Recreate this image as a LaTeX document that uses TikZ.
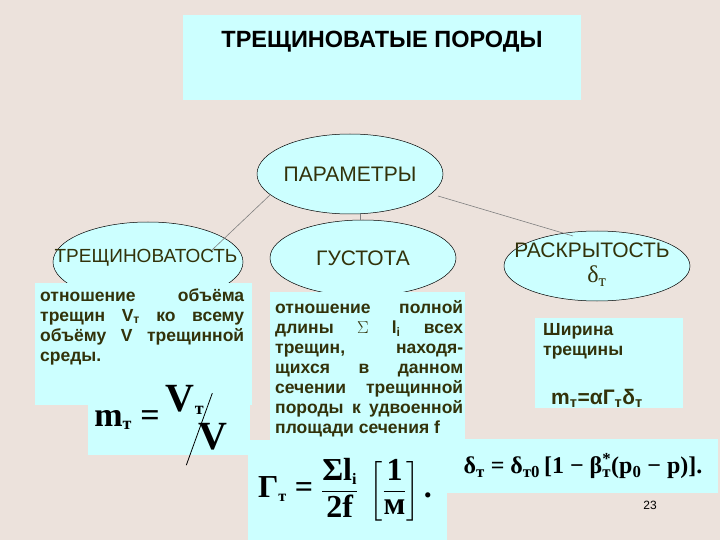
\documentclass[tikz,border=0pt]{standalone}
\usepackage{fontspec}
\usepackage{amsmath}
\setmainfont{Liberation Sans}
\newfontfamily\fs{Liberation Serif}
\usetikzlibrary{shapes.geometric}
\definecolor{bg}{RGB}{236,226,220}
\definecolor{cy}{RGB}{204,255,255}
\definecolor{tx}{RGB}{50,50,10}
\newcommand{\F}[1]{\mbox{\fs\bfseries #1}}
\newcommand{\LL}[1]{\hbox to 204pt{#1}}
\newcommand{\LM}[1]{\hbox to 188pt{#1}}
\tikzset{
 box/.style={fill=cy,draw=none},
 ell/.style={ellipse,draw=black,fill=cy,line width=0.5pt},
 lab/.style={text=tx,font=\fontsize{21}{23}\selectfont},
 body/.style={text=tx,font=\bfseries\fontsize{17.5}{20}\selectfont,align=left,anchor=north west,inner sep=0pt},
 con/.style={draw=gray,line width=0.6pt},
 frm/.style={text=black,font=\fs\bfseries\fontsize{34}{34}\selectfont,inner sep=0pt}
}
\begin{document}
\begin{tikzpicture}[x=1pt,y=-1pt]
\path[fill=bg] (0,0) rectangle (720,540);
\useasboundingbox (0,0) rectangle (720,540);
% title
\fill[box] (183,15) rectangle (581,100);
\node[font=\bfseries\fontsize{23.5}{25}\selectfont, text=black] (title) at (382,42) {ТРЕЩИНОВАТЫЕ ПОРОДЫ};
% ellipses
\node[ell,minimum width=186,minimum height=80] (par) at (350,174) {};
\node[lab] at (350,174) {ПАРАМЕТРЫ};
\node[ell,minimum width=190,minimum height=80] (tr) at (148,262) {};
\node[ell,minimum width=186,minimum height=76] (gu) at (363,258) {};
\node[ell,minimum width=186,minimum height=70] (ra) at (597,266) {};
\path (par.center) ++(-80,21) coordinate (a1);
\path (tr.center) ++(64,-12) coordinate (a2);
\draw[con] (a1) -- (a2);
\path (par.south) ++(10,0) coordinate (p1);
\draw[con] (p1) -- (p1|-gu.north);
\path (par.center) ++(88,22) coordinate (b1);
\path (ra.center) ++(-24,-30) coordinate (b2);
\draw[con] (b1) -- (b2);
% left box
\fill[box] (35,283) rectangle (252,405);
\fill[box] (88,380) rectangle (250,455);
\node[lab,font=\fontsize{19}{21}\selectfont] (trl) at (146,258) {ТРЕЩИНОВАТОСТЬ};
\node[body] (trb) at (40,288) {\LL{отношение\hfill объёма}\\\LL{трещин\hfill V\textsubscript{т}\hfill ко\hfill всему}\\\LL{объёму\hfill V\hfill трещинной}\\среды.};
\node[frm,anchor=east] (mt) at (160,420) {m\textsubscript{\fontsize{18}{18}\selectfont т} =};
\node[frm,font=\fs\bfseries\fontsize{40}{40}\selectfont] (vt) at (185,400) {V\textsubscript{\fontsize{18}{18}\selectfont т}};
\node[frm,font=\fs\bfseries\fontsize{40}{40}\selectfont] (vv) at (213,437) {V};
\path (vt.south east) ++(8,-22) coordinate (s1);
\path (s1) ++(-26,72) coordinate (s2);
\draw[line width=0.8pt] (s1) -- (s2);
% middle
\fill[box] (270,292) rectangle (465,447);
\fill[box] (248,440) rectangle (447,540);
\node[lab] (gul) at (363,258) {ГУСТОТА};
\node[body] (gub) at (275,300) {\LM{отношение\hfill полной}\\\LM{длины\hfill $\Sigma$\hfill l\textsubscript{i}\hfill всех}\\\LM{трещин,\hfill находя-}\\\LM{щихся\hfill в\hfill данном}\\\LM{сечении\hfill трещинной}\\\LM{породы\hfill к\hfill удвоенной}\\площади сечения f};
\node[text=black,font=\fontsize{32}{32}\selectfont] (gam) at (345,490) {$\F{Г}_{\F{\fontsize{16}{16}\selectfont т}}\F{ = }\dfrac{\F{Σl}_{\F{\fontsize{16}{16}\selectfont i}}}{\F{2f}}\;\left[\dfrac{\F{1}}{\F{м}}\right]\F{.}$};
% right
\fill[box] (535,318) rectangle (683,408);
\fill[box] (447,439) rectangle (718,493);
\node[lab,font=\fontsize{21}{23}\selectfont] (ral) at (592,250) {РАСКРЫТОСТЬ};
\node[text=tx,font=\fontsize{24}{24}\selectfont\fs] (dl) at (597,276) {δ\textsubscript{т}};
\node[body,align=left] (rb) at (543,323) {Ширина\\трещины};
\node[text=tx,font=\bfseries\fontsize{21}{21}\selectfont] (mf) at (597,398) {m\textsubscript{т}=αГ\textsubscript{т}δ\textsubscript{т}};
\node[text=black,font=\fs\bfseries\fontsize{24}{24}\selectfont] (df) at (583,466) {δ\textsubscript{т} = δ\textsubscript{т0}\,[1 − β\rlap{\textsuperscript{*}}\textsubscript{т}(p\textsubscript{0} − p)].};
\node[font=\fontsize{12}{12}\selectfont] (pg) at (650,505) {23};
\end{tikzpicture}
\end{document}
